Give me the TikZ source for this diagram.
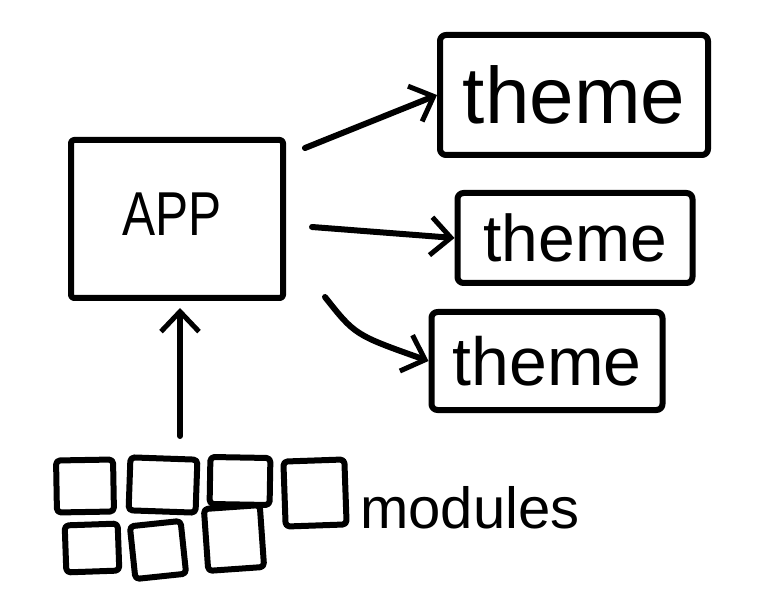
\documentclass[tikz,border=0pt]{standalone}
\usepackage{fontspec}
\setmainfont{Liberation Sans}
\usetikzlibrary{arrows.meta}
\tikzset{
    ink/.style={line width=6pt,line cap=round,line join=round},
    boxy/.style={ink,draw,rounded corners=6pt,inner sep=0pt},
    modbox/.style={ink,draw,rounded corners=4pt,inner sep=0pt},
    scrawl/.style={ink,-{Straight Barb[length=20pt,width=38pt,line width=5pt]}},
}
\newcommand{\sheet} {
    \tikzset{
        x=1pt,
        y=-1pt,
    }
    \useasboundingbox (0,0) rectangle (761,604);
}
\newcommand{\theme}[6] {
    \node[boxy,minimum width=#4,minimum height=#5] (#1)
        at (#2,#3) {\fontsize{#6}{#6}\selectfont theme};
}
\begin{document}
\begin{tikzpicture}
        \sheet
        \node[boxy,rounded corners=3pt,minimum width=212,minimum height=158] (app)
            at (177,219) {};
        \node[xscale=.8] (applabel) at (172,214) {\fontsize{62}{62}\selectfont APP};
        \theme{theme1}{574}{95}{268}{120}{80};
        \theme{theme2}{575}{238}{235}{90}{66};
        \theme{theme3}{547}{361}{231}{98}{68};
        \coordinate (from1) at (305,148);
        \coordinate (from2) at (312,227);
        \coordinate (from3) at (325,297);
        \coordinate (up) at (180,436);
        \draw[scrawl] (from1) -- (theme1.west);
        \draw[scrawl] (from2) -- (theme2.west);
        \draw[scrawl] (from3) .. controls (355,335) .. (theme3.west);
        \draw[scrawl] (up) -- ([yshift=-7pt]up |- app.south);
        \foreach \n/\x/\y/\w/\h/\r in {1/85/486/57/52/1,2/163/485/67/53/-2,3/240/481/60/47/-1,
                4/315/493/61/65/2,5/92/548/53/47/2,6/158/550/51/53/6,7/234/538/56/62/4}
            \node[modbox,minimum width=\w,minimum height=\h,rotate=\r] (mod\n) at (\x,\y) {};
        \node[anchor=base west,inner sep=0pt] (modlabel) at (360,528)
            {\fontsize{58}{58}\selectfont modules};
    \end{tikzpicture}
\end{document}
